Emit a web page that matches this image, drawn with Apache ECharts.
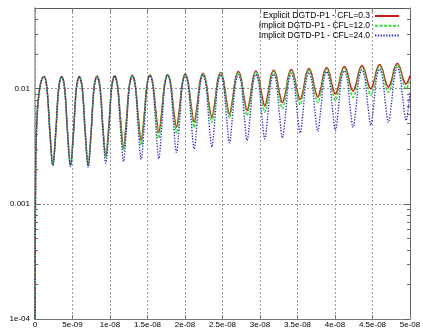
<!DOCTYPE html>
<html><head><meta charset="utf-8">
<script src="https://cdn.jsdelivr.net/npm/echarts@6/dist/echarts.min.js"></script>
<style>html,body{margin:0;padding:0;background:#fff}#c{width:423px;height:331px}</style>
</head><body><div id="c"></div>
<script>
// time in nanoseconds (axis labels are in seconds)
const timeNs = [0, 0.1, 0.3, 0.6, 0.9,
1.20, 1.59, 1.99, 2.38, 2.77, 3.16,
3.56, 3.95, 4.34, 4.73, 5.13, 5.52,
5.91, 6.30, 6.70, 7.09, 7.48, 7.87,
8.27, 8.66, 9.05, 9.44, 9.84, 10.23,
10.62, 11.01, 11.41, 11.80, 12.19, 12.58,
12.98, 13.37, 13.76, 14.15, 14.55, 14.94,
15.33, 15.72, 16.12, 16.51, 16.90, 17.29,
17.69, 18.08, 18.47, 18.86, 19.26, 19.65,
20.04, 20.43, 20.83, 21.22, 21.61, 22.00,
22.40, 22.79, 23.18, 23.57, 23.97, 24.36,
24.75, 25.14, 25.54, 25.93, 26.32, 26.71,
27.11, 27.50, 27.89, 28.28, 28.68, 29.07,
29.46, 29.85, 30.25, 30.64, 31.03, 31.42,
31.82, 32.21, 32.60, 32.99, 33.39, 33.78,
34.17, 34.56, 34.96, 35.35, 35.74, 36.13,
36.53, 36.92, 37.31, 37.70, 38.10, 38.49,
38.88, 39.27, 39.67, 40.06, 40.45, 40.84,
41.24, 41.63, 42.02, 42.41, 42.81, 43.20,
43.59, 43.98, 44.38, 44.77, 45.16, 45.55,
45.95, 46.34, 46.73, 47.12, 47.52, 47.91,
48.30, 48.69, 49.09, 49.48, 49.87, 50.00];

const explicitCfl03 = [0.0001, 0.0025, 0.0062, 0.0098, 0.0120,
0.01270, 0.01008, 0.004159, 0.002154, 0.004159, 0.01008,
0.01270, 0.01008, 0.004159, 0.002154, 0.004159, 0.01008,
0.01270, 0.01008, 0.004159, 0.002154, 0.004167, 0.01018,
0.01283, 0.01041, 0.004669, 0.002578, 0.004678, 0.01047,
0.01291, 0.01055, 0.005315, 0.003084, 0.005326, 0.01064,
0.01301, 0.01077, 0.005733, 0.003546, 0.005756, 0.01085,
0.01311, 0.01098, 0.006247, 0.004159, 0.006272, 0.01105,
0.01322, 0.01111, 0.006645, 0.004623, 0.006672, 0.01125,
0.01340, 0.01132, 0.007055, 0.005107, 0.007083, 0.01145,
0.01359, 0.01159, 0.007475, 0.005609, 0.007519, 0.01175,
0.01381, 0.01182, 0.007794, 0.005955, 0.007841, 0.01197,
0.01403, 0.01211, 0.008209, 0.006449, 0.008242, 0.01226,
0.01423, 0.01238, 0.008714, 0.007055, 0.008750, 0.01250,
0.01443, 0.01265, 0.009087, 0.007564, 0.009124, 0.01275,
0.01461, 0.01288, 0.009495, 0.008031, 0.009552, 0.01311,
0.01496, 0.01322, 0.009881, 0.008441, 0.009940, 0.01343,
0.01526, 0.01357, 0.01035, 0.008961, 0.01041, 0.01378,
0.01557, 0.01398, 0.01083, 0.009514, 0.01090, 0.01415,
0.01582, 0.01426, 0.01123, 0.009940, 0.01127, 0.01446,
0.01614, 0.01458, 0.01157, 0.01030, 0.01166, 0.01487,
0.01653, 0.01502, 0.01213, 0.01094, 0.01218, 0.01301];

const implicitCfl12 = [0.0001, 0.0025, 0.0062, 0.0098, 0.0120,
0.01270, 0.01008, 0.004159, 0.002154, 0.004159, 0.01008,
0.01270, 0.01008, 0.004159, 0.002154, 0.004159, 0.01008,
0.01270, 0.01008, 0.004159, 0.002154, 0.004167, 0.01018,
0.01283, 0.01039, 0.004614, 0.002527, 0.004623, 0.01045,
0.01291, 0.01055, 0.005077, 0.002905, 0.005097, 0.01062,
0.01301, 0.01070, 0.005466, 0.003210, 0.005477, 0.01077,
0.01311, 0.01085, 0.005826, 0.003690, 0.005837, 0.01092,
0.01322, 0.01103, 0.006185, 0.004077, 0.006197, 0.01105,
0.01327, 0.01114, 0.006632, 0.004595, 0.006658, 0.01125,
0.01343, 0.01134, 0.007027, 0.005077, 0.007069, 0.01145,
0.01362, 0.01159, 0.007430, 0.005553, 0.007475, 0.01173,
0.01381, 0.01178, 0.007686, 0.005837, 0.007717, 0.01187,
0.01395, 0.01197, 0.007999, 0.006234, 0.008031, 0.01206,
0.01409, 0.01218, 0.008374, 0.006672, 0.008391, 0.01223,
0.01417, 0.01238, 0.008785, 0.007197, 0.008855, 0.01263,
0.01452, 0.01268, 0.009106, 0.007519, 0.009178, 0.01288,
0.01481, 0.01296, 0.009419, 0.007872, 0.009476, 0.01317,
0.01511, 0.01330, 0.009842, 0.008357, 0.009901, 0.01349,
0.01535, 0.01359, 0.01016, 0.008697, 0.01022, 0.01381,
0.01566, 0.01395, 0.01066, 0.009234, 0.01072, 0.01420,
0.01604, 0.01443, 0.01125, 0.009901, 0.01127, 0.01211];

const implicitCfl24 = [0.0001, 0.0025, 0.0062, 0.0098, 0.0120,
0.01270, 0.01008, 0.004151, 0.002154, 0.004151, 0.01008,
0.01270, 0.01006, 0.004102, 0.002112, 0.004102, 0.01006,
0.01270, 0.01004, 0.004053, 0.002070, 0.004053, 0.01004,
0.01270, 0.01014, 0.004260, 0.002242, 0.004277, 0.01022,
0.01283, 0.01028, 0.004380, 0.002333, 0.004389, 0.01032,
0.01288, 0.01037, 0.004505, 0.002428, 0.004513, 0.01043,
0.01296, 0.01045, 0.004568, 0.002477, 0.004577, 0.01049,
0.01301, 0.01066, 0.004937, 0.002792, 0.004937, 0.01068,
0.01306, 0.01064, 0.005159, 0.002993, 0.005169, 0.01066,
0.01311, 0.01072, 0.005305, 0.003115, 0.005315, 0.01077,
0.01317, 0.01087, 0.005587, 0.003374, 0.005587, 0.01092,
0.01322, 0.01100, 0.005768, 0.003546, 0.005779, 0.01103,
0.01327, 0.01094, 0.005779, 0.003654, 0.005791, 0.01098,
0.01335, 0.01103, 0.005861, 0.003727, 0.005872, 0.01109,
0.01343, 0.01125, 0.006272, 0.004118, 0.006322, 0.01147,
0.01376, 0.01152, 0.006449, 0.004243, 0.006488, 0.01173,
0.01403, 0.01175, 0.006579, 0.004328, 0.006605, 0.01192,
0.01426, 0.01204, 0.006874, 0.004595, 0.006915, 0.01223,
0.01455, 0.01233, 0.007139, 0.004830, 0.007182, 0.01250,
0.01478, 0.01233, 0.007298, 0.005077, 0.007371, 0.01260,
0.01520, 0.01270, 0.007564, 0.005283, 0.007610, 0.009234];

const seriesNames = ['Explicit DGTD-P1 - CFL=0.3', 'Implicit DGTD-P1 - CFL=12.0', 'Implicit DGTD-P1 - CFL=24.0'];
const xTickLabels = ['0', '5e-09', '1e-08', '1.5e-08', '2e-08', '2.5e-08', '3e-08', '3.5e-08', '4e-08', '4.5e-08', '5e-08'];
const yTickValues = [1e-4, 1e-3, 1e-2];
const yTickLabels = ['1e-04', '0.001', '0.01'];
const yMinorTicks = [2e-4, 3e-4, 4e-4, 5e-4, 6e-4, 7e-4, 8e-4, 9e-4,
  0.002, 0.003, 0.004, 0.005, 0.006, 0.007, 0.008, 0.009, 0.02, 0.03, 0.04];

const FONT = '"Liberation Sans", Arial, sans-serif';
const pairs = ys => timeNs.map((t, i) => [t, ys[i]]);
const yLabel = v => {
  for (let i = 0; i < yTickValues.length; i++) {
    if (Math.abs(Math.log10(v) - Math.log10(yTickValues[i])) < 0.01) return yTickLabels[i];
  }
  return '';
};
const xLabel = v => {
  const i = Math.round(v / 5);
  return Math.abs(v - i * 5) < 1e-6 ? xTickLabels[i] : '';
};

const chart = echarts.init(document.getElementById('c'), null, {renderer: 'canvas'});
const gridLine = {show: true, lineStyle: {color: '#9a9a9a', width: 1, type: [2, 2]}};
chart.setOption({
  animation: false,
  backgroundColor: '#fff',
  grid: {left: 35, right: 13, top: 8, bottom: 12, containLabel: false, outerBoundsMode: 'none'},
  legend: {
    data: seriesNames, orient: 'vertical', align: 'right', right: 23, top: 11.5, padding: 0,
    itemWidth: 24, itemHeight: 8, itemGap: 0.7, selectedMode: false,
    itemStyle: {opacity: 0},
    textStyle: {fontFamily: FONT, fontSize: 8.5, color: '#000', lineHeight: 8}
  },
  xAxis: [{
    type: 'value', min: 0, max: 50, interval: 5, position: 'bottom',
    axisLine: {show: true, onZero: false, lineStyle: {color: '#777', width: 1}},
    axisTick: {show: true, inside: true, length: 4, lineStyle: {color: '#777'}},
    axisLabel: {formatter: xLabel, fontFamily: FONT, fontSize: 8, color: '#000', margin: 2},
    splitLine: gridLine
  }, {
    type: 'value', min: 0, max: 50, interval: 5, position: 'top',
    axisLine: {show: true, onZero: false, lineStyle: {color: '#555', width: 1}},
    axisTick: {show: true, inside: true, length: 4, lineStyle: {color: '#777'}},
    axisLabel: {show: false}, splitLine: {show: false}
  }],
  yAxis: [{
    type: 'log', logBase: 10, min: 1e-4, max: 0.05, position: 'left',
    axisLine: {show: true, onZero: false, lineStyle: {color: '#999', width: 1.5}},
    axisTick: {show: true, inside: true, length: 6, lineStyle: {color: '#666'}},
    axisLabel: {formatter: yLabel, fontFamily: FONT, fontSize: 8, color: '#000', margin: 5},
    splitLine: gridLine, minorTick: {show: false}
  }, {
    type: 'log', logBase: 10, min: 1e-4, max: 0.05, position: 'right',
    axisLine: {show: true, onZero: false, lineStyle: {color: '#666', width: 1}},
    axisTick: {show: true, inside: true, length: 6, lineStyle: {color: '#666'}},
    axisLabel: {show: false}, splitLine: {show: false}
  }],
  series: [
    {name: seriesNames[0], type: 'line', data: pairs(explicitCfl03), symbol: 'none', smooth: 0.35,
     lineStyle: {color: '#d01818', width: 1.5, type: 'solid'}, itemStyle: {color: '#d01818'}, z: 2},
    {name: seriesNames[1], type: 'line', data: pairs(implicitCfl12), symbol: 'none', smooth: 0.35,
     lineStyle: {color: '#33dd33', width: 1.5, type: [3, 1.5]}, itemStyle: {color: '#33dd33'}, z: 3},
    {name: seriesNames[2], type: 'line', data: pairs(implicitCfl24), symbol: 'none', smooth: 0.35,
     lineStyle: {color: '#2222cc', width: 1.3, type: [1.3, 1.5]}, itemStyle: {color: '#2222cc'}, z: 4},
    {type: 'custom', silent: true, clip: false, z: 5,
     data: yMinorTicks.map(v => [0, v]), encode: {x: 0, y: 1},
     renderItem: (params, api) => {
       const cs = params.coordSys;
       const y = Math.round(api.coord([0, api.value(1)])[1]) + 0.5;
       const st = {stroke: '#666', lineWidth: 1};
       return {type: 'group', children: [
         {type: 'line', shape: {x1: cs.x, y1: y, x2: cs.x + 3, y2: y}, style: st},
         {type: 'line', shape: {x1: cs.x + cs.width - 3, y1: y, x2: cs.x + cs.width, y2: y}, style: st}
       ]};
     }}
  ]
});
</script></body></html>
